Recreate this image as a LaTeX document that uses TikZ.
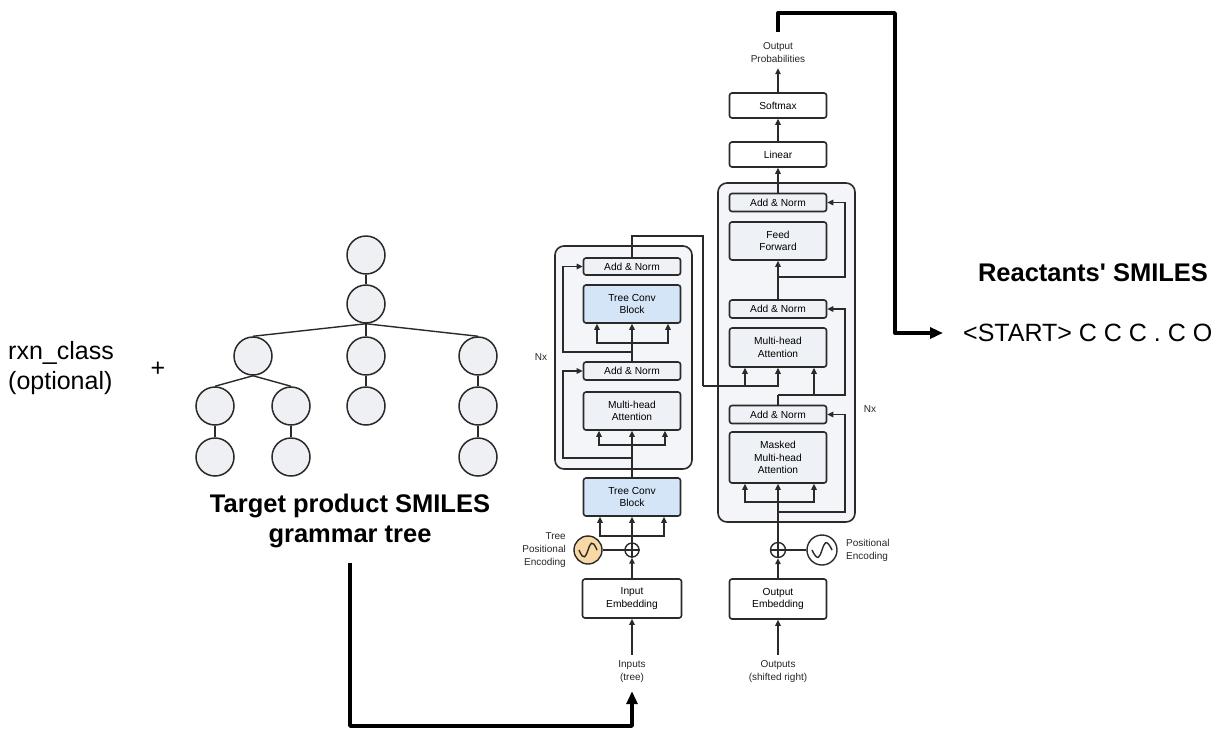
\documentclass[tikz,border=0pt]{standalone}
\usepackage{fontspec}
\setmainfont{Liberation Sans}
\usetikzlibrary{arrows.meta,calc}
\definecolor{lc}{HTML}{2A2A2A}
\definecolor{boxfill}{HTML}{EEF1F5}
\definecolor{outerfill}{HTML}{F3F5F8}
\definecolor{bluefill}{HTML}{D5E5F8}
\definecolor{orangefill}{HTML}{F8D9A6}
\definecolor{treefill}{HTML}{EEF0F3}
\begin{document}
\begin{tikzpicture}[x=1pt,y=-1pt,
  blk/.style={draw=lc, line width=1.6pt, fill=boxfill, rounded corners=2.5pt,
    minimum width=97pt, inner sep=0pt, align=center,
    font=\fontsize{10.2}{12.5}\selectfont},
  blue/.style={blk, fill=bluefill},
  plain/.style={blk, fill=white},
  outer/.style={draw=lc, line width=1.6pt, fill=outerfill, rounded corners=9pt,
    inner sep=0pt},
  conn/.style={line width=1.4pt, draw=lc},
  arr/.style={conn, -{Triangle[length=6pt,width=5.5pt]}},
  thickline/.style={line width=3.4pt, draw=black},
  thickarr/.style={thickline, -{Triangle[length=13pt,width=11pt]}},
  small/.style={font=\fontsize{10}{13}\selectfont, align=center, inner sep=0pt, text=black!85},
  tnode/.style={circle, draw=lc, line width=1.5pt, fill=treefill, minimum size=38pt, inner sep=0pt},
  big/.style={font=\fontsize{25}{30}\selectfont, inner sep=0pt},
  bigb/.style={font=\bfseries\fontsize{25.5}{30}\selectfont, inner sep=0pt, align=center}
]
\useasboundingbox (0,0) rectangle (1223,729);

% ---------- left texts ----------
\node[big, align=left, anchor=west] (rxn) at (8,368) {rxn\_class\\(optional)};
\node[big] (plus) at (158,369) {+};

% ---------- tree ----------
\node[tnode] (t0) at (366,255) {};
\node[tnode] (t1) at (366,304) {};
\node[tnode] (t2a) at (253,356) {};
\node[tnode] (t2b) at (366,356) {};
\node[tnode] (t2c) at (478,356) {};
\node[tnode] (t3a) at (215,406) {};
\node[tnode] (t3b) at (291,406) {};
\node[tnode] (t3c) at (366,406) {};
\node[tnode] (t3d) at (478,406) {};
\node[tnode] (t4a) at (215,457) {};
\node[tnode] (t4b) at (291,457) {};
\node[tnode] (t4d) at (478,457) {};
\draw[conn] (t0.south) -- (t1.north);
\draw[conn] (t1.south) -- (t2a.north);
\draw[conn] (t1.south) -- (t2b.north);
\draw[conn] (t1.south) -- (t2c.north);
\draw[conn] (t2a.south) -- (t3a.north);
\draw[conn] (t2a.south) -- (t3b.north);
\draw[conn] (t2b.south) -- (t3c.north);
\draw[conn] (t2c.south) -- (t3d.north);
\draw[conn] (t3a.south) -- (t4a.north);
\draw[conn] (t3b.south) -- (t4b.north);
\draw[conn] (t3d.south) -- (t4d.north);

\node[bigb] (tgt) at (350,521) {Target product SMILES\\grammar tree};

% ---------- encoder ----------
\node[outer, minimum width=137pt, minimum height=223pt] (encOuter) at (623.5,357.5) {};
\node[blk, minimum height=17pt] (encAN2) at (632,266.5) {Add \& Norm};
\node[blue, minimum height=38pt] (encTC) at (632,304) {Tree Conv\\Block};
\node[blk, minimum height=18pt] (encAN1) at (632,371) {Add \& Norm};
\node[blk, minimum height=38pt] (encMHA) at (632,411) {Multi-head\\Attention};
\node[blue, minimum height=38pt] (encTC0) at (632,497) {Tree Conv\\Block};
\node[circle, draw=lc, line width=1.4pt, fill=white, minimum size=14pt, inner sep=0pt] (encPlus) at (632,550) {};
\draw[conn] (encPlus.north) -- (encPlus.south) (encPlus.west) -- (encPlus.east);
\node[circle, draw=lc, line width=1.4pt, fill=orangefill, minimum size=28pt, inner sep=0pt] (encPE) at (588,550) {};
\draw[conn] ([xshift=-9pt]encPE.center) .. controls ([xshift=-4pt,yshift=-12pt]encPE.center) and ([xshift=-2pt,yshift=-6pt]encPE.center) .. (encPE.center) .. controls ([xshift=2pt,yshift=6pt]encPE.center) and ([xshift=4pt,yshift=12pt]encPE.center) .. ([xshift=9pt]encPE.center);
\node[plain, minimum width=99pt, minimum height=39pt] (encEmb) at (632,598.5) {Input\\Embedding};
\node[small, anchor=east, align=right] (encPEtxt) at (566,550) {Tree\\Positional\\Encoding};
\node[small] (inputs) at (632,672) {Inputs\\(tree)};
\node[small] (nxe) at (541,357) {Nx};

% encoder connectors
\draw[arr] ([yshift=6pt]inputs.north) -- (encEmb.south);
\draw[arr] (encEmb.north) -- (encPlus.south);
\draw[conn] (encPE.east) -- (encPlus.west);
\coordinate (eb0) at (632,536);
\draw[conn] (encPlus.north) -- (eb0);
\draw[arr] (eb0) -- (encTC0.south);
\draw[arr] (eb0) -| ([xshift=-32pt]encTC0.south);
\draw[arr] (eb0) -| ([xshift=32pt]encTC0.south);
\coordinate (eb1) at (632,445);
\coordinate (er1) at (632,458);
\draw[conn] (encTC0.north) -- (eb1);
\draw[arr] (eb1) -- (encMHA.south);
\draw[arr] (eb1) -| ([xshift=-33pt]encMHA.south);
\draw[arr] (eb1) -| ([xshift=33pt]encMHA.south);
\draw[arr] (er1) -| (563,371) -- (encAN1.west);
\coordinate (eb2) at (632,343);
\coordinate (er2) at (632,352);
\draw[conn] (encAN1.north) -- (eb2);
\draw[arr] (eb2) -- (encTC.south);
\draw[arr] (eb2) -| ([xshift=-35pt]encTC.south);
\draw[arr] (eb2) -| ([xshift=36pt]encTC.south);
\draw[arr] (er2) -| (563,266.5) -- (encAN2.west);

% ---------- decoder ----------
\node[outer, minimum width=137pt, minimum height=339pt] (decOuter) at (786.5,352.5) {};
\node[plain, minimum height=25pt] (softmax) at (778,105.5) {Softmax};
\node[plain, minimum height=25pt] (linear) at (778,154.5) {Linear};
\node[blk, minimum height=18pt] (decAN3) at (778,202.5) {Add \& Norm};
\node[blk, minimum height=38pt] (decFF) at (778,241) {Feed\\Forward};
\node[blk, minimum height=18pt] (decAN2) at (778,309) {Add \& Norm};
\node[blk, minimum height=39pt] (decMHA) at (778,347.5) {Multi-head\\Attention};
\node[blk, minimum height=18pt] (decAN1) at (778,414.5) {Add \& Norm};
\node[blk, minimum height=51pt] (decMMHA) at (778,457.5) {Masked\\Multi-head\\Attention};
\node[circle, draw=lc, line width=1.4pt, fill=white, minimum size=15pt, inner sep=0pt] (decPlus) at (778,550) {};
\draw[conn] (decPlus.north) -- (decPlus.south) (decPlus.west) -- (decPlus.east);
\node[circle, draw=lc, line width=1.4pt, fill=white, minimum size=30pt, inner sep=0pt] (decPE) at (822,550) {};
\draw[conn] ([xshift=-10pt]decPE.center) .. controls ([xshift=-4pt,yshift=-13pt]decPE.center) and ([xshift=-2pt,yshift=-6pt]decPE.center) .. (decPE.center) .. controls ([xshift=2pt,yshift=6pt]decPE.center) and ([xshift=4pt,yshift=13pt]decPE.center) .. ([xshift=10pt]decPE.center);
\node[plain, minimum height=40pt] (decEmb) at (778,599) {Output\\Embedding};
\node[small, anchor=west, align=left] (decPEtxt) at (846,550) {Positional\\Encoding};
\node[small] (outputs) at (778,672) {Outputs\\(shifted right)};
\node[small] (outprob) at (778,53) {Output\\Probabilities};
\node[small] (nxd) at (870,409) {Nx};

% decoder connectors
\draw[arr] ([yshift=6pt]outputs.north) -- (decEmb.south);
\draw[arr] (decEmb.north) -- (decPlus.south);
\draw[conn] (decPE.west) -- (decPlus.east);
\coordinate (db0) at (778,502);
\coordinate (dr0) at (778,512);
\draw[conn] (decPlus.north) -- (dr0) -- (db0);
\draw[arr] (db0) -- (decMMHA.south);
\draw[arr] (db0) -| ([xshift=-33pt]decMMHA.south);
\draw[arr] (db0) -| ([xshift=36pt]decMMHA.south);
\draw[arr] (dr0) -| (845,414.5) -- (decAN1.east);
\coordinate (db1) at (778,395);
\draw[conn] (decAN1.north) -- (db1);
\draw[arr] (db1) -| ([xshift=36pt]decMHA.south);
\draw[arr] (db1) -| (845,309) -- (decAN2.east);
\coordinate (dr2) at (778,277);
\draw[arr] (decAN2.north) -- (decFF.south);
\draw[arr] (dr2) -| (845,202.5) -- (decAN3.east);
\draw[arr] (decAN3.north) -- (linear.south);
\draw[arr] (linear.north) -- (softmax.south);
\draw[arr] (softmax.north) -- ([yshift=-5pt]outprob.south);

% encoder -> decoder
\coordinate (ed0) at (703,386);
\draw[conn] (encAN2.north) |- (703,236) -- (ed0);
\draw[arr] (ed0) -| ([xshift=-33pt]decMHA.south);
\draw[arr] (ed0) -| (decMHA.south);

% ---------- right texts ----------
\node[bigb, anchor=center] (react) at (1093,273) {Reactants\textquotesingle{} SMILES};
\node[big, anchor=west] (start) at (963,333) {<START> C C C . C O};

% thick connectors
\coordinate (corner) at (895,13);
\draw[thickarr, line join=round] ([yshift=11pt]outprob.north) |- (corner) |- ([xshift=-20pt]start.west);
\draw[thickarr, line join=round] ([yshift=-15pt]tgt.south) |- (632,726) -- ([yshift=-8pt]inputs.south);
\end{tikzpicture}
\end{document}
